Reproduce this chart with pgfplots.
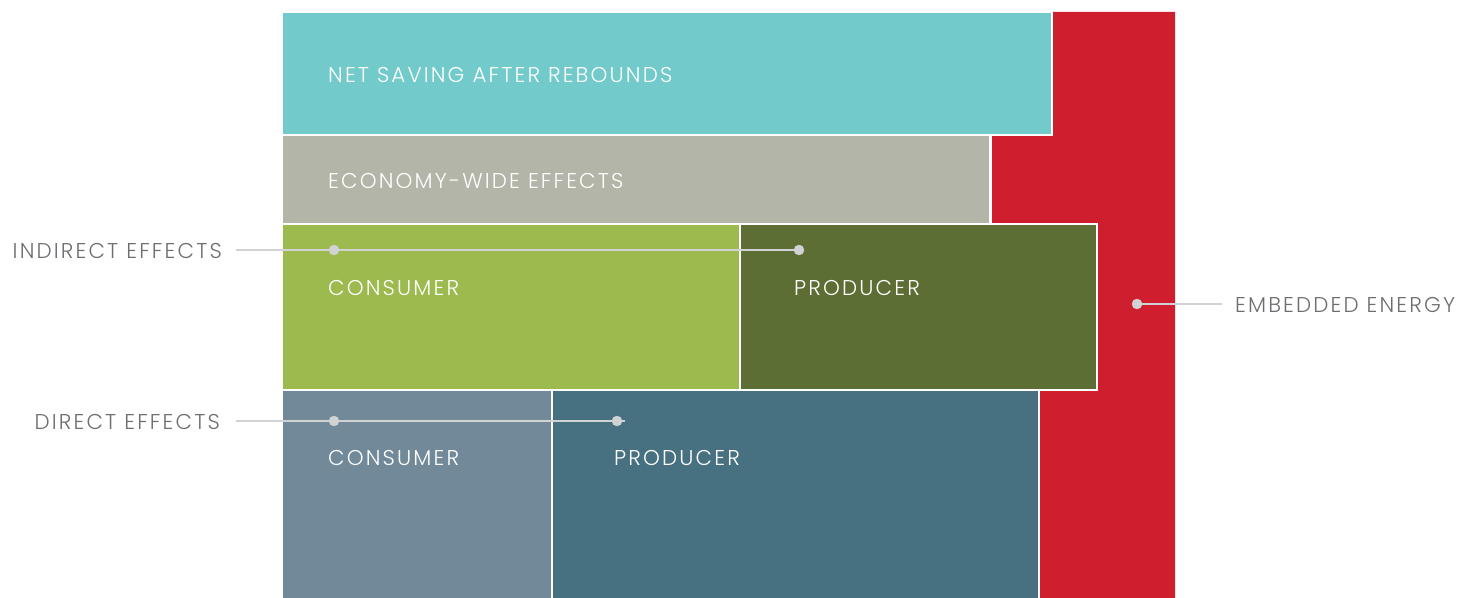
\documentclass[border=0pt]{standalone}
\usepackage{fontspec}
\setmainfont{Poppins}[UprightFont={* Light}, LetterSpace=10]
\usepackage{pgfplots}
\pgfplotsset{compat=1.18}
\definecolor{cteal}{HTML}{72CACB}
\definecolor{cgray}{HTML}{B3B5A8}
\definecolor{clgreen}{HTML}{9CBA4E}
\definecolor{colive}{HTML}{5C6E33}
\definecolor{cslate}{HTML}{718998}
\definecolor{cdteal}{HTML}{477180}
\definecolor{cred}{HTML}{CF1F2E}
\definecolor{cline}{HTML}{D0D2D3}
\definecolor{ctext}{HTML}{6D6E71}
\begin{document}
\begin{tikzpicture}
\begin{axis}[
  width=1468bp, height=598bp, scale only axis,
  xmin=0, xmax=1468, ymin=0, ymax=598, y dir=reverse,
  axis lines=none, clip=true,
  every axis plot/.append style={line join=miter},
]
% embedded energy (red L-shape)
\addplot[fill=cred, draw=none] coordinates {(1052,12) (1175,12) (1175,598) (1039,598) (1039,390) (1097,390) (1097,224) (990.5,224) (990.5,135) (1052,135)} -- cycle;
% net saving
\addplot[fill=cteal, draw=white, line width=2.5bp] coordinates {(282,12) (1052,12) (1052,135) (282,135)} -- cycle;
% economy-wide
\addplot[fill=cgray, draw=white, line width=2.5bp] coordinates {(282,135) (990.5,135) (990.5,224) (282,224)} -- cycle;
% indirect consumer
\addplot[fill=clgreen, draw=white, line width=2.5bp] coordinates {(282,224) (740,224) (740,390) (282,390)} -- cycle;
% indirect producer
\addplot[fill=colive, draw=white, line width=2.5bp] coordinates {(740,224) (1097,224) (1097,390) (740,390)} -- cycle;
% direct consumer
\addplot[fill=cslate, draw=white, line width=2.5bp] coordinates {(282,390) (552,390) (552,600) (282,600)} -- cycle;
% direct producer
\addplot[fill=cdteal, draw=white, line width=2.5bp] coordinates {(552,390) (1039,390) (1039,600) (552,600)} -- cycle;
% leader lines
\addplot[cline, line width=2bp] coordinates {(236,250) (799,250)};
\addplot[cline, line width=2bp] coordinates {(236,421) (625,421)};
\addplot[cline, line width=2bp] coordinates {(1137,304) (1222,304)};
\addplot[only marks, mark=*, mark size=5bp, color=cline] coordinates {(334,250) (799,250) (334,421) (617,421) (1137,304)};
% labels
\tikzset{lab/.style={anchor=base west, inner sep=0pt, font=\fontsize{21.5}{26}\selectfont}}
\node[lab, white] at (axis cs:328,83) {NET SAVING AFTER REBOUNDS};
\node[lab, white] at (axis cs:328,189) {ECONOMY-WIDE EFFECTS};
\node[lab, white] at (axis cs:328,295) {CONSUMER};
\node[lab, white] at (axis cs:794,295) {PRODUCER};
\node[lab, white] at (axis cs:328,465) {CONSUMER};
\node[lab, white] at (axis cs:614,465) {PRODUCER};
\node[lab, ctext, anchor=base east] at (axis cs:222,258) {INDIRECT EFFECTS};
\node[lab, ctext, anchor=base east] at (axis cs:220,429) {DIRECT EFFECTS};
\node[lab, ctext] at (axis cs:1235,312) {EMBEDDED ENERGY};
\end{axis}
\pgfresetboundingbox
\path[use as bounding box] (current axis.south west) rectangle (current axis.north east);
\end{tikzpicture}
\end{document}
